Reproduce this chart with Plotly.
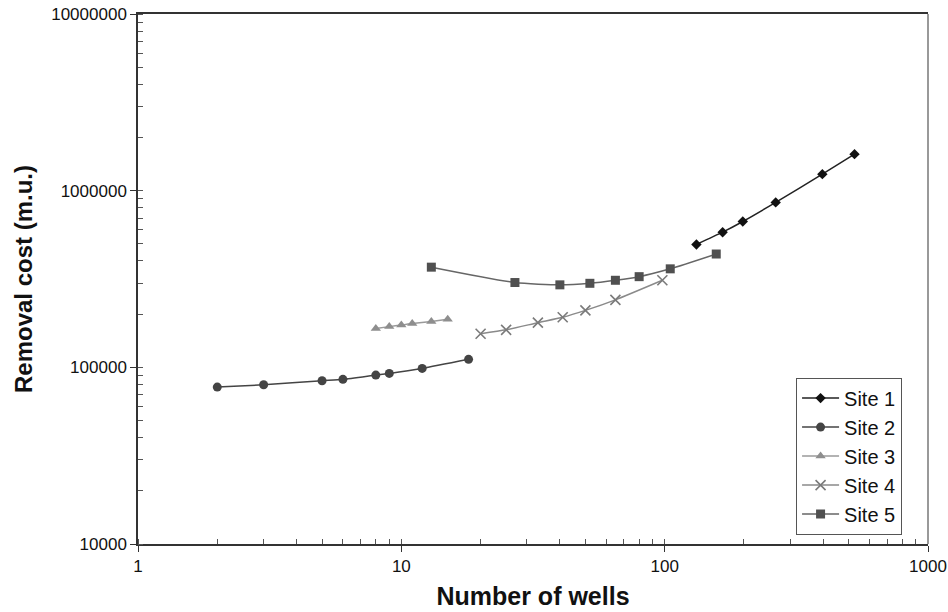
import plotly.graph_objects as go

# Removal cost versus number of wells for five sites
site1_wells = [132, 166, 198, 264, 397, 526]
site1_cost = [496000, 582000, 669000, 858000, 1240000, 1610000]

site2_wells = [2, 3, 5, 6, 8, 9, 12, 18]
site2_cost = [77300, 79700, 84000, 85500, 90400, 92400, 98600, 111000]

site3_wells = [8, 9, 10, 11, 13, 15]
site3_cost = [166000, 170000, 173500, 177000, 182000, 187000]

site4_wells = [20, 25, 33, 41, 50, 65, 98]
site4_cost = [155000, 163000, 179000, 192000, 210000, 241000, 311000]

site5_wells = [13, 27, 40, 52, 65, 80, 105, 157]
site5_cost = [369000, 302000, 293000, 299000, 311000, 326000, 361000, 438000]

x_ticks = [1, 10, 100, 1000]
y_ticks = [10000, 100000, 1000000, 10000000]

FONT = "Liberation Sans, Arial, Helvetica, sans-serif"

series = [
    ("Site 1", site1_wells, site1_cost, "#111111", "#222222", "diamond", 8),
    ("Site 2", site2_wells, site2_cost, "#444444", "#444444", "circle", 9),
    ("Site 3", site3_wells, site3_cost, "#8e8e8e", "#9a9a9a", "triangle-up", 9),
    ("Site 4", site4_wells, site4_cost, "#7a7a7a", "#8a8a8a", "x-thin", 10),
    ("Site 5", site5_wells, site5_cost, "#505050", "#666666", "square", 9),
]

fig = go.Figure()
for name, xs, ys, mcolor, lcolor, symbol, size in series:
    marker = dict(symbol=symbol, size=size, color=mcolor)
    if symbol == "x-thin":
        marker["line"] = dict(color=mcolor, width=1.6)
    fig.add_trace(go.Scatter(
        x=xs, y=ys, name=name, mode="lines+markers",
        line=dict(color=lcolor, width=1.5, shape="spline", smoothing=0.6),
        marker=marker,
    ))

fig.update_layout(
    width=948, height=612,
    margin=dict(l=138, r=20, t=14, b=68),
    paper_bgcolor="white", plot_bgcolor="white",
    font=dict(family=FONT, color="#111111"),
    showlegend=True,
    legend=dict(
        x=0.833, y=0.314, xanchor="left", yanchor="top",
        bgcolor="white", bordercolor="#555555", borderwidth=1,
        font=dict(size=20, family=FONT, color="#111111"),
        tracegroupgap=0, itemwidth=37,
    ),
)

fig.update_xaxes(
    type="log", range=[0, 3], automargin=False,
    tickvals=x_ticks, ticktext=[str(v) for v in x_ticks],
    tickfont=dict(size=17, family=FONT),
    showgrid=False, zeroline=False,
    showline=True, linecolor="#333333", linewidth=1.5, mirror=True,
    ticks="outside", ticklen=6, tickcolor="#333333",
    minor=dict(ticks="inside", ticklen=5, tickcolor="#555555", dtick="D1", showgrid=False),
    title=dict(text="<b>Number of wells</b>", font=dict(size=25, family=FONT), standoff=12),
)

fig.update_yaxes(
    type="log", range=[4, 7], automargin=False,
    tickvals=y_ticks, ticktext=[str(v) for v in y_ticks],
    tickfont=dict(size=17, family=FONT),
    showgrid=False, zeroline=False,
    showline=True, linecolor="#333333", linewidth=1.5,
    ticks="outside", ticklen=6, tickcolor="#333333",
    minor=dict(ticks="inside", ticklen=5, tickcolor="#555555", dtick="D1", showgrid=False),
    title=dict(text="<b>Removal cost (m.u.)</b>", font=dict(size=24, family=FONT), standoff=12),
)

# light right-hand border of the plotting area
fig.add_shape(type="line", xref="paper", yref="paper", x0=1, x1=1, y0=0, y1=1,
              line=dict(color="#999999", width=2))

fig.write_html("out.html")
